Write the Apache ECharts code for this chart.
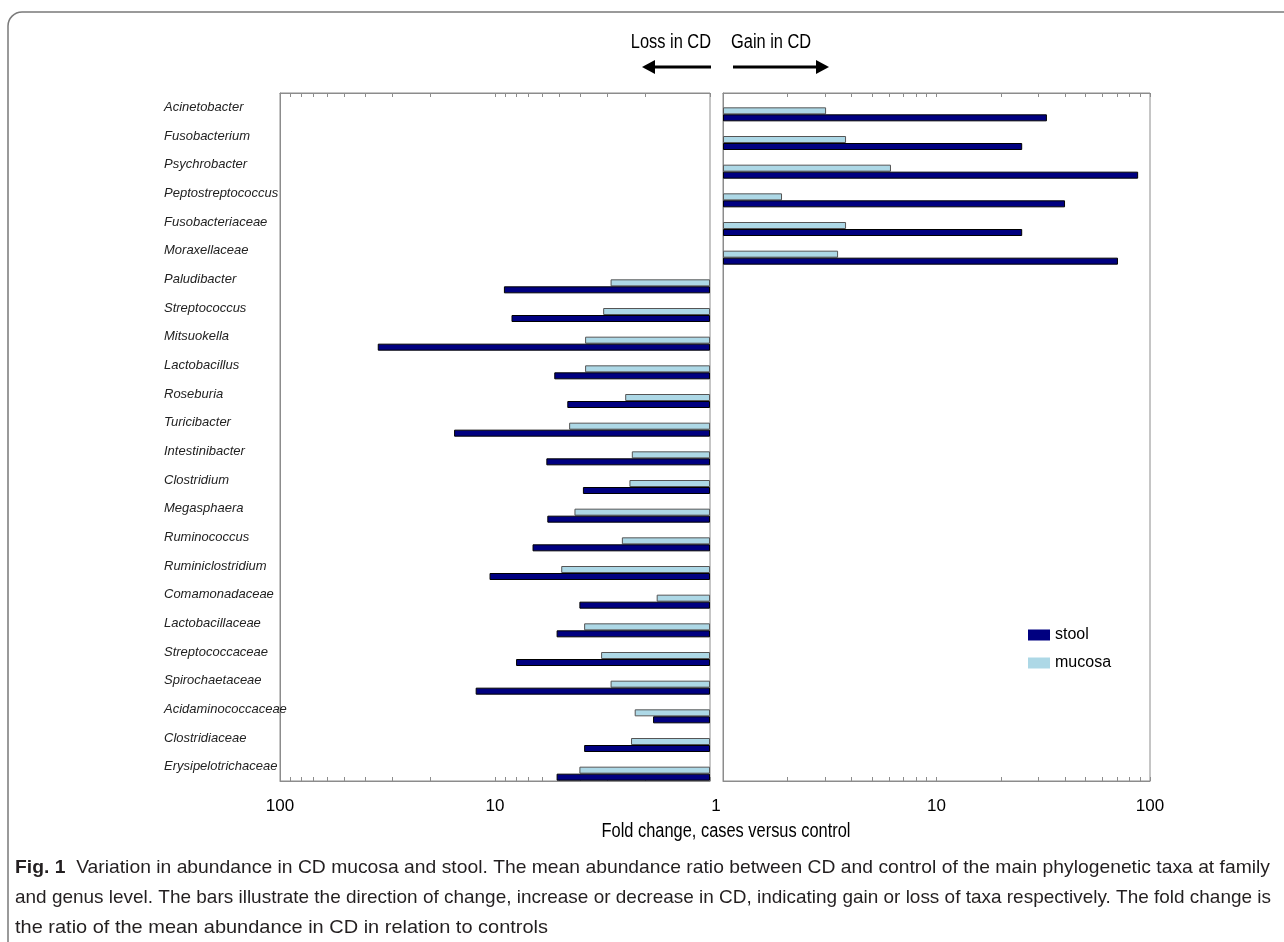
<!DOCTYPE html>
<html>
<head>
<meta charset="utf-8">
<script src="https://cdn.jsdelivr.net/npm/echarts@6/dist/echarts.min.js"></script>
<style>
html, body { margin: 0; padding: 0; background: #fff; }
#chart { width: 1284px; height: 942px; }
</style>
</head>
<body>
<div id="chart"></div>
<script>
// taxa, top to bottom
var taxa = ['Acinetobacter', 'Fusobacterium', 'Psychrobacter', 'Peptostreptococcus', 'Fusobacteriaceae',
    'Moraxellaceae', 'Paludibacter', 'Streptococcus', 'Mitsuokella', 'Lactobacillus', 'Roseburia',
    'Turicibacter', 'Intestinibacter', 'Clostridium', 'Megasphaera', 'Ruminococcus', 'Ruminiclostridium',
    'Comamonadaceae', 'Lactobacillaceae', 'Streptococcaceae', 'Spirochaetaceae', 'Acidaminococcaceae',
    'Clostridiaceae', 'Erysipelotrichaceae']

// fold change, gain in CD (right panel)
var stoolGain = [32.9, 25.2, 88, 40, 25.2, 70.8, '-', '-', '-', '-', '-', '-', '-', '-', '-', '-', '-', '-', '-', '-', '-', '-', '-', '-']
var mucosaGain = [3.04, 3.77, 6.12, 1.89, 3.77, 3.46, '-', '-', '-', '-', '-', '-', '-', '-', '-', '-', '-', '-', '-', '-', '-', '-', '-', '-']

// fold change, loss in CD (left panel)
var stoolLoss = ['-', '-', '-', '-', '-', '-', 9.09, 8.38, 35.1, 5.3, 4.61, 15.5, 5.77, 3.9, 5.71, 6.69, 10.6, 4.05, 5.17, 7.98, 12.3, 1.84, 3.85, 5.17]
var mucosaLoss = ['-', '-', '-', '-', '-', '-', 2.9, 3.14, 3.81, 3.81, 2.48, 4.52, 2.31, 2.37, 4.27, 2.57, 4.92, 1.77, 3.85, 3.21, 2.9, 2.24, 2.33, 4.05]

var tickValues = [1, 2, 3, 4, 5, 6, 7, 8, 9, 10, 20, 30, 40, 50, 60, 70, 80, 90, 100]
var leftLabels = [100, 10, 1]
var rightLabels = [10, 100]

var captionBold = 'Fig. 1'
var captionLines = [
    '  Variation in abundance in CD mucosa and stool. The mean abundance ratio between CD and control of the main phylogenetic taxa at family',
    'and genus level. The bars illustrate the direction of change, increase or decrease in CD, indicating gain or loss of taxa respectively. The fold change is',
    'the ratio of the mean abundance in CD in relation to controls'
]
var captionEnds = [1270, 1271, 548]

var SANS = "'Liberation Sans', Arial, sans-serif"
var STOOL = '#000080'
var MUCOSA = '#add8e6'
var FRAME = '#8c8c8c'

function logAxis(grid, pos, inverse, labels) {
    return {
        type: 'log',
        logBase: 10,
        gridIndex: grid,
        position: pos,
        min: 1,
        max: 100,
        inverse: inverse,
        axisLine: { show: true, lineStyle: { color: FRAME, width: 1 } },
        axisTick: { show: true, inside: true, length: 4, customValues: tickValues, lineStyle: { color: FRAME } },
        axisLabel: labels ? {
            show: true,
            customValues: labels,
            margin: 17,
            color: '#000',
            fontFamily: SANS,
            fontSize: 17,
            formatter: function (v) { return v === 1 ? '{one|1}' : String(v) },
            rich: { one: { fontFamily: SANS, fontSize: 17, color: '#000', padding: [0, 0, 0, 12] } }
        } : { show: false },
        splitLine: { show: false }
    }
}

function pad(xi, yi) {
    return { type: 'bar', name: 'pad', xAxisIndex: xi, yAxisIndex: yi, data: [], barWidth: 7, barGap: 0, silent: true }
}

function bars(name, data, xi, yi, color, border) {
    return {
        type: 'bar',
        name: name,
        xAxisIndex: xi,
        yAxisIndex: yi,
        data: data,
        barWidth: 7,
        barGap: 0,
        itemStyle: { color: color, borderColor: border, borderWidth: 1 },
        emphasis: { disabled: true }
    }
}

var measureCtx = document.createElement('canvas').getContext('2d')
function textWidth(str, font) {
    measureCtx.font = font
    return measureCtx.measureText(str).width
}

var chart = echarts.init(document.getElementById('chart'), null, { renderer: 'canvas' })

var headFont = "20px 'Liberation Sans', Arial, sans-serif"
var graphics = [
    { type: 'rect', shape: { x: 8, y: 12, width: 1320, height: 980, r: 14 }, style: { fill: 'none', stroke: '#7a7a7a', lineWidth: 1.5 }, silent: true },
    { type: 'text', x: 711, y: 42, scaleX: 0.82, style: { text: 'Loss in CD', font: headFont, fill: '#000', align: 'right', verticalAlign: 'middle' } },
    { type: 'text', x: 731, y: 42, scaleX: 0.82, style: { text: 'Gain in CD', font: headFont, fill: '#000', align: 'left', verticalAlign: 'middle' } },
    { type: 'line', shape: { x1: 711, y1: 67, x2: 652, y2: 67 }, style: { stroke: '#000', lineWidth: 3 } },
    { type: 'polygon', shape: { points: [[642, 67], [655, 60], [655, 74]] }, style: { fill: '#000' } },
    { type: 'line', shape: { x1: 733, y1: 67, x2: 818, y2: 67 }, style: { stroke: '#000', lineWidth: 3 } },
    { type: 'polygon', shape: { points: [[829, 67], [816, 60], [816, 74]] }, style: { fill: '#000' } },
    { type: 'text', x: 726, y: 831, scaleX: 0.82, style: { text: 'Fold change, cases versus control', font: headFont, fill: '#000', align: 'center', verticalAlign: 'middle' } }
]

// caption, each line stretched slightly to span the same width as in the figure
var capSize = 19
var capFont = capSize + "px 'Liberation Sans', Arial, sans-serif"
var capBoldFont = 'bold ' + capFont
captionLines.forEach(function (line, i) {
    var w = textWidth(line, capFont) + (i === 0 ? textWidth(captionBold, capBoldFont) : 0)
    graphics.push({
        type: 'text',
        x: 15,
        y: 868 + i * 30,
        scaleX: (captionEnds[i] - 15) / w,
        style: {
            text: (i === 0 ? '{b|' + captionBold + '}' : '') + line,
            fontFamily: SANS,
            fontSize: capSize,
            fill: '#231f20',
            verticalAlign: 'middle',
            rich: { b: { fontFamily: SANS, fontSize: capSize, fontWeight: 'bold', fill: '#231f20' } }
        }
    })
})

chart.setOption({
    animation: false,
    backgroundColor: '#fff',
    grid: [
        { left: 280, top: 93, width: 430, height: 688, show: true, borderColor: FRAME, borderWidth: 1, backgroundColor: 'transparent' },
        { left: 723, top: 93, width: 427, height: 688, show: true, borderColor: FRAME, borderWidth: 1, backgroundColor: 'transparent' }
    ],
    xAxis: [
        logAxis(0, 'bottom', true, leftLabels),
        logAxis(0, 'top', true, null),
        logAxis(1, 'bottom', false, rightLabels),
        logAxis(1, 'top', false, null)
    ],
    yAxis: [
        {
            type: 'category',
            gridIndex: 0,
            data: taxa,
            inverse: true,
            axisLine: { show: true, lineStyle: { color: FRAME } },
            axisTick: { show: false },
            axisLabel: { align: 'left', margin: 116, fontFamily: SANS, fontStyle: 'italic', fontSize: 13, color: '#222' }
        },
        {
            type: 'category',
            gridIndex: 1,
            data: taxa,
            inverse: true,
            axisLine: { show: true, lineStyle: { color: FRAME } },
            axisTick: { show: false },
            axisLabel: { show: false }
        }
    ],
    legend: {
        data: [{ name: 'stool', icon: 'rect' }, { name: 'mucosa', icon: 'rect' }],
        orient: 'vertical',
        left: 1023,
        top: 622,
        itemWidth: 22,
        itemHeight: 11,
        itemGap: 12,
        itemStyle: { borderWidth: 0 },
        textStyle: { fontFamily: SANS, fontSize: 16, color: '#000' },
        selectedMode: false
    },
    series: [
        pad(0, 0), pad(0, 0),
        bars('mucosa', mucosaLoss, 0, 0, MUCOSA, '#555'),
        bars('stool', stoolLoss, 0, 0, STOOL, '#000'),
        pad(2, 1), pad(2, 1),
        bars('mucosa', mucosaGain, 2, 1, MUCOSA, '#555'),
        bars('stool', stoolGain, 2, 1, STOOL, '#000')
    ],
    graphic: graphics
})
</script>
</body>
</html>
